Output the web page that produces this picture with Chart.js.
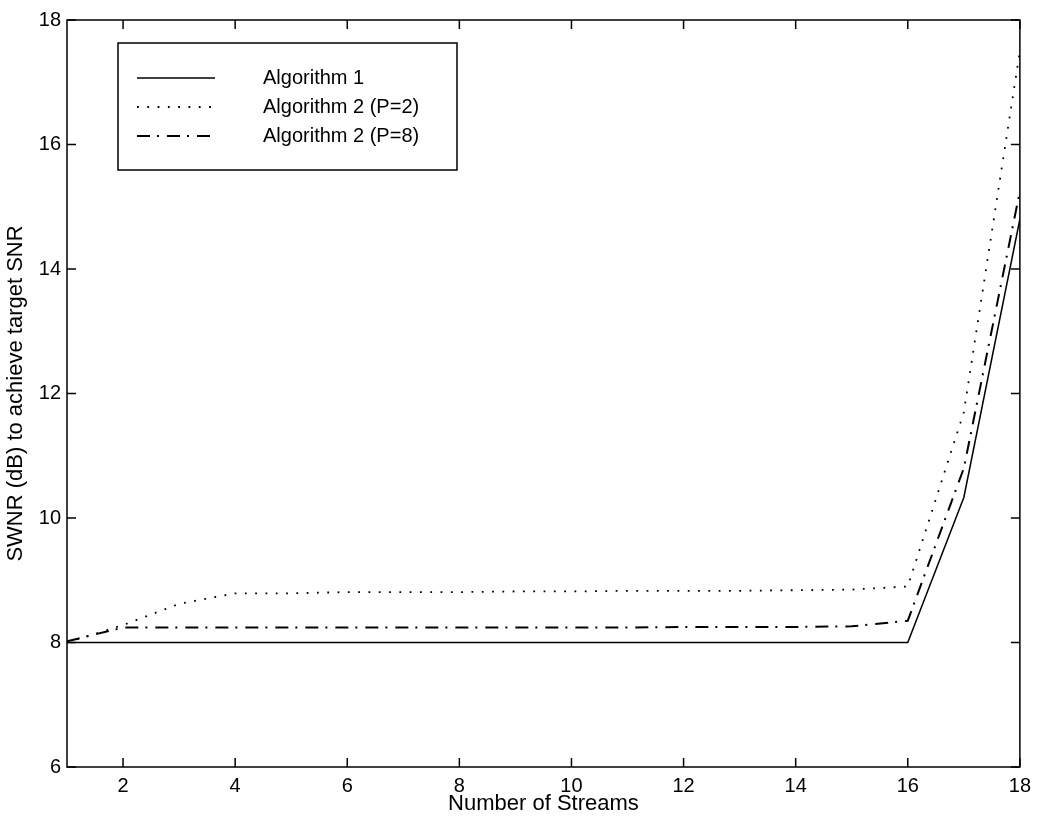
<!DOCTYPE html>
<html>
<head>
<meta charset="utf-8">
<script src="https://cdn.jsdelivr.net/npm/chart.js@4"></script>
<style>
  html, body { margin: 0; padding: 0; background: #fff; }
  canvas { display: block; }
</style>
</head>
<body>
<canvas id="myChart" width="1038" height="821"></canvas>
<script>
// data
const streams = [1, 2, 3, 4, 5, 6, 7, 8, 9, 10, 11, 12, 13, 14, 15, 16, 17, 18];
const alg1   = [8, 8, 8, 8, 8, 8, 8, 8, 8, 8, 8, 8, 8, 8, 8, 8, 10.33, 14.8];
const alg2p2 = [8.0, 8.28, 8.62, 8.79, 8.79, 8.81, 8.81, 8.81, 8.82, 8.82, 8.83, 8.83, 8.83, 8.84, 8.85, 8.9, 11.7, 17.5];
const alg2p8 = [8.02, 8.24, 8.24, 8.24, 8.24, 8.24, 8.24, 8.24, 8.24, 8.24, 8.24, 8.25, 8.25, 8.25, 8.26, 8.35, 10.8, 15.25];
const xTicks = [2, 4, 6, 8, 10, 12, 14, 16, 18];
const yTicks = [6, 8, 10, 12, 14, 16, 18];
const seriesNames = ['Algorithm 1', 'Algorithm 2 (P=2)', 'Algorithm 2 (P=8)'];

const FONT = '"Liberation Sans", Arial, Helvetica, sans-serif';

function pts(vals) {
    return streams.map((s, i) => ({ x: s, y: vals[i] }));
}

// matlab style frame + inward ticks on all four sides
const framePlugin = {
    id: 'frame',
    afterDatasetsDraw(chart) {
        const ctx = chart.ctx;
        const a = chart.chartArea;
        const xs = chart.scales.x, ys = chart.scales.y;
        const len = 9;
        ctx.save();
        ctx.strokeStyle = '#000';
        ctx.lineWidth = 1.5;
        ctx.setLineDash([]);
        ctx.strokeRect(a.left, a.top, a.right - a.left, a.bottom - a.top);
        ctx.beginPath();
        xTicks.forEach(v => {
            const px = xs.getPixelForValue(v);
            ctx.moveTo(px, a.bottom); ctx.lineTo(px, a.bottom - len);
            ctx.moveTo(px, a.top); ctx.lineTo(px, a.top + len);
        });
        yTicks.forEach(v => {
            const py = ys.getPixelForValue(v);
            ctx.moveTo(a.left, py); ctx.lineTo(a.left + len, py);
            ctx.moveTo(a.right, py); ctx.lineTo(a.right - len, py);
        });
        ctx.stroke();
        ctx.restore();
    }
};

// boxed legend in the upper left corner
const legendPlugin = {
    id: 'boxLegend',
    afterDraw(chart) {
        const ctx = chart.ctx;
        const a = chart.chartArea;
        const bx = a.left + 51, by = a.top + 23, bw = 339, bh = 127;
        ctx.save();
        ctx.fillStyle = '#fff';
        ctx.fillRect(bx, by, bw, bh);
        ctx.strokeStyle = '#000';
        ctx.lineWidth = 1.5;
        ctx.setLineDash([]);
        ctx.strokeRect(bx, by, bw, bh);
        ctx.font = '20px ' + FONT;
        ctx.textBaseline = 'middle';
        ctx.fillStyle = '#000';
        chart.data.datasets.forEach((ds, i) => {
            const y = by + 35 + i * 29;
            ctx.beginPath();
            ctx.setLineDash(ds.borderDash || []);
            ctx.lineWidth = ds.borderWidth;
            ctx.moveTo(bx + 19, y);
            ctx.lineTo(bx + 97, y);
            ctx.stroke();
            ctx.setLineDash([]);
            ctx.fillText(ds.label, bx + 145, y);
        });
        ctx.restore();
    }
};

const ctx = document.getElementById('myChart').getContext('2d');
const myChart = new Chart(ctx, {
    type: 'line',
    data: {
        datasets: [
            {
                label: seriesNames[0],
                data: pts(alg1),
                borderColor: '#000',
                borderWidth: 1.5,
                pointRadius: 0,
                tension: 0
            },
            {
                label: seriesNames[1],
                data: pts(alg2p2),
                borderColor: '#000',
                borderWidth: 1.8,
                borderDash: [1.8, 8.5],
                pointRadius: 0,
                tension: 0
            },
            {
                label: seriesNames[2],
                data: pts(alg2p8),
                borderColor: '#000',
                borderWidth: 2,
                borderDash: [13, 7, 2, 8],
                pointRadius: 0,
                tension: 0
            }
        ]
    },
    options: {
        responsive: false,
        animation: false,
        devicePixelRatio: 1,
        layout: { padding: { top: 20, right: 11, left: 0, bottom: 0 } },
        plugins: {
            legend: { display: false },
            tooltip: { enabled: false }
        },
        scales: {
            x: {
                type: 'linear',
                min: 1,
                max: 18,
                grid: { display: false, drawTicks: false },
                border: { display: false },
                afterBuildTicks: s => { s.ticks = xTicks.map(v => ({ value: v })); },
                afterFit: s => { s.height = 54; },
                ticks: {
                    color: '#000',
                    padding: 7,
                    maxRotation: 0,
                    font: { family: FONT, size: 20 }
                },
                title: {
                    display: true,
                    text: 'Number of Streams',
                    color: '#000',
                    padding: { top: 0, bottom: 4 },
                    font: { family: FONT, size: 22 }
                }
            },
            y: {
                min: 6,
                max: 18,
                grid: { display: false, drawTicks: false },
                border: { display: false },
                afterBuildTicks: s => { s.ticks = yTicks.map(v => ({ value: v })); },
                afterFit: s => { s.width = 67; },
                ticks: {
                    color: '#000',
                    padding: 6,
                    font: { family: FONT, size: 20 }
                },
                title: {
                    display: true,
                    text: 'SWNR (dB) to achieve target SNR',
                    color: '#000',
                    padding: { top: 3, bottom: 0 },
                    font: { family: FONT, size: 22 }
                }
            }
        }
    },
    plugins: [framePlugin, legendPlugin]
});
</script>
</body>
</html>
